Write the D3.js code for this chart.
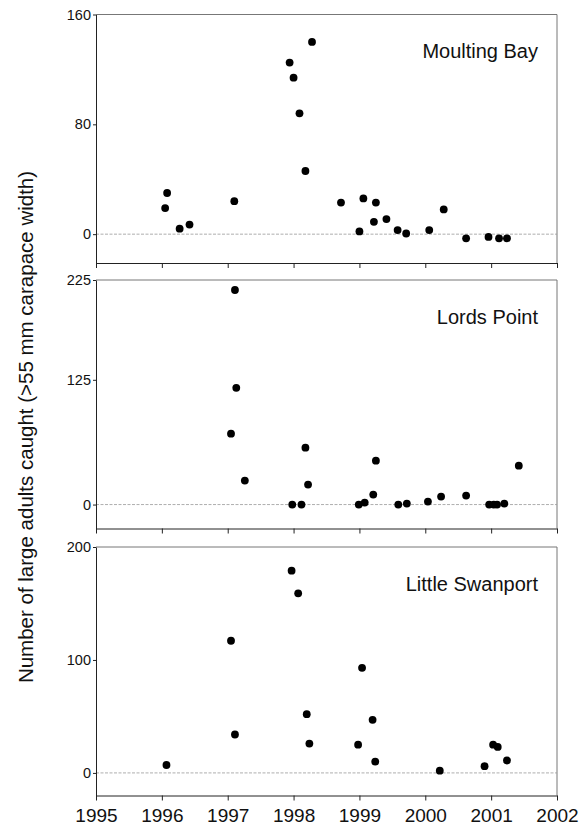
<!DOCTYPE html>
<html>
<head>
<meta charset="utf-8">
<script src="https://cdn.jsdelivr.net/npm/d3@7"></script>
<style>
body { margin: 0; background: #fff; }
svg { display: block; font-family: "Liberation Sans", Arial, sans-serif; }
</style>
</head>
<body>
<svg id="chart" width="588" height="827"></svg>
<script>
// panels, top to bottom
var siteNames = ["Moulting Bay", "Lords Point", "Little Swanport"];
var yMin = [-21, -24, -20];
var yMax = [160, 225, 200];
var yTicks = [[0, 80, 160], [0, 125, 225], [0, 100, 200]];
var yearTicks = [1995, 1996, 1997, 1998, 1999, 2000, 2001, 2002];

// [decimal year, number caught]
var moultingBay = [
    [1996.05, 19], [1996.08, 30], [1996.27, 4], [1996.42, 7], [1997.10, 24],
    [1997.94, 125], [1998.00, 114], [1998.09, 88], [1998.18, 46], [1998.28, 140],
    [1998.72, 23], [1999.00, 2], [1999.06, 26], [1999.22, 9], [1999.25, 23],
    [1999.41, 11], [1999.58, 3], [1999.71, 0.5], [2000.06, 3], [2000.28, 18],
    [2000.62, -3], [2000.96, -2], [2001.12, -3], [2001.24, -3]
];
var lordsPoint = [
    [1997.05, 71], [1997.11, 215], [1997.13, 117], [1997.26, 24],
    [1997.98, 0], [1998.12, 0], [1998.18, 57], [1998.22, 20],
    [1998.99, 0], [1999.08, 2], [1999.21, 10], [1999.25, 44],
    [1999.59, 0], [1999.72, 1], [2000.04, 3], [2000.24, 8], [2000.62, 9],
    [2000.97, 0], [2001.04, 0], [2001.09, 0], [2001.20, 1], [2001.42, 39]
];
var littleSwanport = [
    [1996.07, 7], [1997.05, 117], [1997.11, 34], [1997.97, 179], [1998.07, 159],
    [1998.20, 52], [1998.24, 26], [1998.98, 25], [1999.04, 93], [1999.20, 47],
    [1999.24, 10], [2000.22, 2], [2000.90, 6], [2001.03, 25], [2001.10, 23],
    [2001.24, 11]
];
var siteData = [moultingBay, lordsPoint, littleSwanport];

var left = 96, right = 557;
var tops = [14.5, 280, 547], panelH = 248.5;

var svg = d3.select("#chart");

var x = d3.scaleLinear().domain([1995, 2002]).range([left, right]);

siteNames.forEach(function(name, i) {
    var top = tops[i], bottom = top + panelH;
    var y = d3.scaleLinear().domain([yMin[i], yMax[i]]).range([bottom, top]);
    var g = svg.append("g");

    // frame top + right (lighter than the axes)
    g.append("path")
        .attr("d", "M" + left + "," + top + "H" + right + "V" + bottom)
        .attr("fill", "none").attr("stroke", "#777").attr("stroke-width", 1);

    // zero line
    g.append("line")
        .attr("x1", left).attr("x2", right)
        .attr("y1", y(0)).attr("y2", y(0))
        .attr("stroke", "#999").attr("stroke-width", 0.8)
        .attr("stroke-dasharray", "3,1.5");

    var yAxis = g.append("g")
        .attr("transform", "translate(" + left + ",0)")
        .call(d3.axisLeft(y).tickValues(yTicks[i]).tickSize(3).tickPadding(2).tickSizeOuter(0));
    yAxis.selectAll("text").attr("font-size", "14.5px").attr("fill", "#111");

    var xAxis = g.append("g")
        .attr("transform", "translate(0," + bottom + ")")
        .call(d3.axisBottom(x).tickValues(yearTicks).tickSize(5).tickPadding(8).tickSizeOuter(0)
            .tickFormat(i === 2 ? d3.format("d") : ""));
    xAxis.selectAll("text").attr("font-size", "19px").attr("fill", "#111");

    g.selectAll(".domain, .tick line").attr("stroke", "#222");

    g.selectAll("circle")
        .data(siteData[i])
        .enter().append("circle")
        .attr("cx", function(d) { return x(d[0]); })
        .attr("cy", function(d) { return y(d[1]); })
        .attr("r", 3.9)
        .attr("fill", "#000");

    g.append("text")
        .attr("x", 538).attr("y", top + 43.5)
        .attr("text-anchor", "end")
        .attr("font-size", "20px")
        .attr("fill", "#111")
        .text(name);
});

svg.append("text")
    .attr("transform", "translate(33,427) rotate(-90)")
    .attr("text-anchor", "middle")
    .attr("font-size", "20.5px")
    .attr("fill", "#111")
    .text("Number of large adults caught (>55 mm carapace width)");
</script>
</body>
</html>
